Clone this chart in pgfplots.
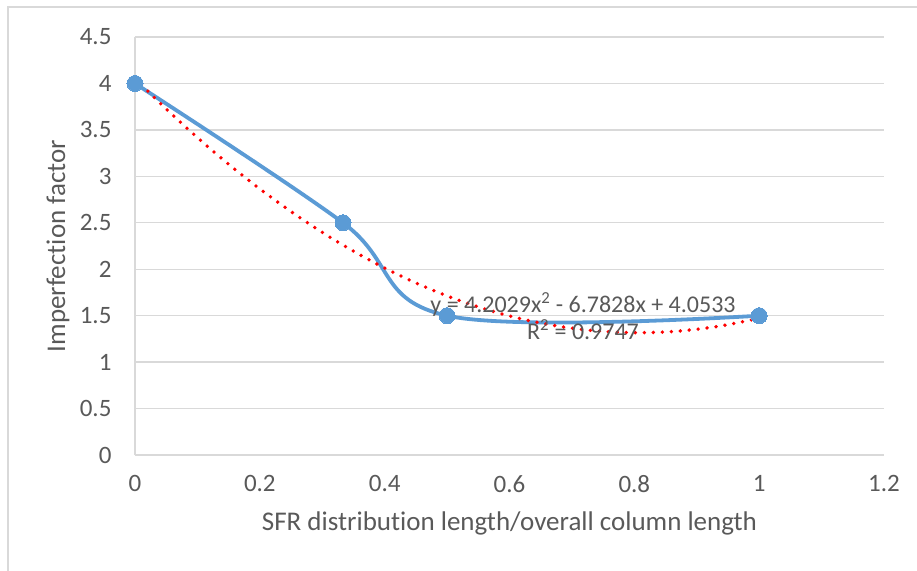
\documentclass[border=0pt]{standalone}
\usepackage{pgfplots}
\pgfplotsset{compat=1.18}
\usepackage{fontspec}
\setmainfont{Carlito}[Ligatures={NoCommon}]
\definecolor{txt}{HTML}{595959}
\definecolor{grd}{HTML}{D9D9D9}
\definecolor{ser}{HTML}{5B9BD5}
\begin{document}
\begin{tikzpicture}
\path[use as bounding box] (-135pt,-115pt) rectangle (782pt,455pt);
\draw[grd, line width=1.3pt] (-127pt,-120pt) -- (-127pt,448pt) -- (790pt,448pt);
\begin{axis}[
  at={(0pt,0pt)}, anchor=south west,
  width=749pt, height=418pt, scale only axis,
  xmin=0, xmax=1.2, ymin=0, ymax=4.5,
  xtick={0,0.2,0.4,0.6,0.8,1,1.2},
  ytick={0,0.5,1,1.5,2,2.5,3,3.5,4,4.5},
  xticklabels={0,0.2,0.4,0.6,0.8,1,1.2},
  yticklabels={0,0.5,1,1.5,2,2.5,3,3.5,4,4.5},
  axis x line*=bottom, axis y line*=left,
  axis line style={grd, line width=1.3pt, -},
  major tick length=0pt,
  ymajorgrids, grid style={grd, line width=1.3pt},
  tick label style={font=\fontsize{25}{30}\selectfont, text=txt},
  xticklabel style={yshift=-17pt},
  yticklabel style={xshift=-20pt},
  label style={font=\fontsize{27}{32}\selectfont, text=txt},
  xlabel={SFR distribution length/overall column length},
  ylabel={Imperfection factor},
  xlabel style={at={(axis description cs:0.5,-0.1627)}, anchor=center},
  ylabel style={at={(axis description cs:-0.1028,0.5)}, anchor=center, rotate=0},
  clip=false,
]
\addplot[ser, line width=3.8pt, smooth, tension=0.6, mark=*, mark size=8pt, mark options={fill=ser, draw=ser, line width=0pt}]
  coordinates {(0,4) (0.3333,2.5) (0.5,1.5) (1,1.5)};
\addplot[red, line width=3.8pt, line cap=round, dash pattern=on 0pt off 9pt, smooth]
  coordinates {(0,4.0533) (0.05,3.7247) (0.1,3.4171) (0.15,3.1305) (0.2,2.8649) (0.25,2.6203) (0.3,2.3967) (0.35,2.1942) (0.4,2.0126) (0.45,1.8521) (0.5,1.7126) (0.55,1.5941) (0.6,1.4967) (0.65,1.4202) (0.7,1.3648) (0.75,1.3303) (0.8,1.3169) (0.85,1.3245) (0.9,1.3531) (0.95,1.4028) (1,1.4734)};
\node[text=txt, font=\fontsize{24}{28}\selectfont] at (axis cs:0.7178,1.6256) {y = 4.2029x\textsuperscript{2} - 6.7828x + 4.0533};
\node[text=txt, font=\fontsize{24}{28}\selectfont] at (axis cs:0.7178,1.3457) {R\textsuperscript{2} = 0.9747};
\end{axis}
\end{tikzpicture}
\end{document}
